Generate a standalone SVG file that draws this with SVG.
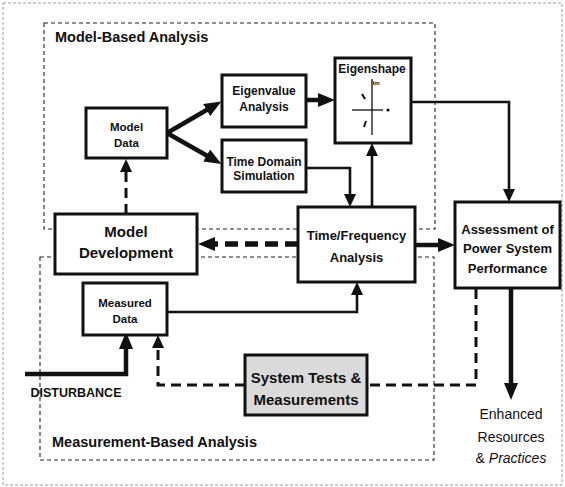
<svg xmlns="http://www.w3.org/2000/svg" width="565" height="487" viewBox="0 0 565 487">
<style>
.t{font-family:"Liberation Sans",Arial,sans-serif;font-weight:bold;fill:#111;text-anchor:middle}
.n{font-weight:normal}
.node{fill:#fff;stroke:#111;stroke-width:3}
.region{fill:none;stroke:#222;stroke-width:1.1;stroke-dasharray:4 3}
.thick{fill:none;stroke:#111;stroke-width:4.5}
.med{fill:none;stroke:#111;stroke-width:2.6}
.dthick{fill:none;stroke:#111;stroke-width:5.5;stroke-dasharray:13 7}
.dmed{fill:none;stroke:#111;stroke-width:3;stroke-dasharray:10 6}
</style>
<defs>
<marker id="big" markerUnits="userSpaceOnUse" markerWidth="17" markerHeight="14" refX="1" refY="7" orient="auto">
<path d="M0,0 L17,7 L0,14 z" fill="#111"/>
</marker>
<marker id="mid" markerUnits="userSpaceOnUse" markerWidth="13" markerHeight="12" refX="1" refY="6" orient="auto">
<path d="M0,0 L13,6 L0,12 z" fill="#111"/>
</marker>
</defs>
<rect width="565" height="487" fill="#fff"/>
<rect x="3" y="3" width="559" height="482" fill="none" stroke="#9a9a9a" stroke-width="1" stroke-dasharray="3 2"/>
<g id="regions">
<rect class="region" x="44" y="23" width="391" height="206"/>
<rect class="region" x="40" y="257" width="394" height="203"/>
<text class="t" x="55" y="42" font-size="14.5" style="text-anchor:start">Model-Based Analysis</text>
<text class="t" x="52" y="447" font-size="14.5" style="text-anchor:start">Measurement-Based Analysis</text>
</g>
<g id="connectors">
<path class="thick" d="M167,133 L207.5,109.5" marker-end="url(#big)"/>
<path class="thick" d="M167,133 L207.5,156" marker-end="url(#big)"/>
<path class="dmed" d="M126,214 V171" marker-end="url(#mid)"/>
<path class="thick" d="M306,100 H319" marker-end="url(#big)"/>
<path class="med" d="M306,168 H350 V195" marker-end="url(#mid)"/>
<path class="med" d="M372,207 V155" marker-end="url(#mid)"/>
<path class="med" d="M411,102 H509 V190" marker-end="url(#mid)"/>
<path class="dthick" d="M298,244 H214" marker-end="url(#big)"/>
<path class="thick" d="M415,245 H439" marker-end="url(#big)"/>
<path class="med" d="M167,312 H357 V294" marker-end="url(#mid)"/>
<path class="thick" d="M25,374 H126 V348" marker-end="url(#big)"/>
<path class="dmed" d="M245,385 H158 V347" marker-end="url(#mid)"/>
<path class="dmed" d="M476,289 V385 H367"/>
<path class="thick" d="M511,288 V384" marker-end="url(#big)"/>
</g>
<g id="model-data">
<rect class="node" x="86" y="108" width="81" height="50"/>
<text class="t" x="126.5" y="131" font-size="11.5">Model</text>
<text class="t" x="126.5" y="147" font-size="11.5">Data</text>
</g>
<g id="eigenvalue-analysis">
<rect class="node" x="222" y="75" width="84" height="52"/>
<text class="t" x="264" y="95" font-size="12">Eigenvalue</text>
<text class="t" x="264" y="111" font-size="12">Analysis</text>
</g>
<g id="time-domain-simulation">
<rect class="node" x="222" y="140" width="84" height="52"/>
<text class="t" x="264" y="166" font-size="12">Time Domain</text>
<text class="t" x="264" y="180" font-size="12">Simulation</text>
</g>
<g id="eigenshape">
<rect class="node" x="335" y="58" width="76" height="85"/>
<text class="t" x="372" y="73" font-size="12">Eigenshape</text>
<line x1="372" y1="79" x2="372" y2="135" stroke="#111" stroke-width="1.3"/>
<line x1="352" y1="110" x2="383" y2="110" stroke="#111" stroke-width="1.3"/>
<circle cx="388" cy="110" r="1.6" fill="#111"/>
<line x1="362" y1="94" x2="365" y2="99" stroke="#111" stroke-width="2"/>
<line x1="366" y1="121" x2="364" y2="127" stroke="#111" stroke-width="2"/>
<text class="t" x="376" y="85" font-size="6">Im</text>
</g>
<g id="model-development">
<rect class="node" x="55" y="214" width="142" height="60"/>
<text class="t" x="126" y="237" font-size="15">Model</text>
<text class="t" x="126" y="258" font-size="15">Development</text>
</g>
<g id="time-frequency-analysis">
<rect class="node" x="298" y="207" width="117" height="75"/>
<text class="t" x="356.5" y="240" font-size="13">Time/Frequency</text>
<text class="t" x="356.5" y="262" font-size="13">Analysis</text>
</g>
<g id="assessment">
<rect class="node" x="455" y="202" width="105" height="86"/>
<text class="t" x="507.5" y="234" font-size="13">Assessment of</text>
<text class="t" x="507.5" y="253" font-size="13">Power System</text>
<text class="t" x="507.5" y="273" font-size="13">Performance</text>
</g>
<g id="measured-data">
<rect class="node" x="83" y="283" width="84" height="52"/>
<text class="t" x="125" y="307" font-size="11.5">Measured</text>
<text class="t" x="125" y="323" font-size="11.5">Data</text>
</g>
<g id="system-tests">
<rect class="node" x="245" y="355" width="122" height="60" style="fill:#dadada"/>
<text class="t" x="306" y="383" font-size="15">System Tests &amp;</text>
<text class="t" x="306" y="405" font-size="15">Measurements</text>
</g>
<g id="disturbance">
<text class="t" x="76" y="397" font-size="12.5">DISTURBANCE</text>
</g>
<g id="enhanced">
<text class="t n" x="511" y="419" font-size="14">Enhanced</text>
<text class="t n" x="511" y="442" font-size="14">Resources</text>
<text class="t n" x="511" y="463" font-size="14">&amp; <tspan font-style="italic">Practices</tspan></text>
</g>
</svg>
